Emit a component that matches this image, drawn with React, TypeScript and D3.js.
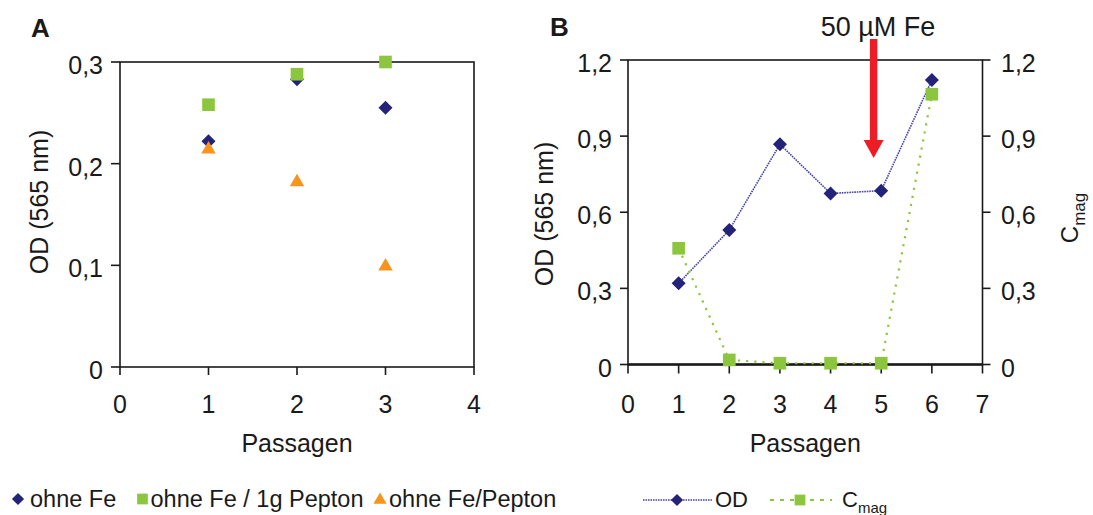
import React from "react";
import * as d3 from "d3";

// Panel A data
const passA = [1, 2, 3];
const ohneFe = [0.222, 0.283, 0.255];
const ohneFe1gPepton = [0.258, 0.288, 0.3];
const ohneFePepton = [0.214, 0.182, 0.099];
const xTicksA = [0, 1, 2, 3, 4];
const yTicksA = [0, 0.1, 0.2, 0.3];

// Panel B data
const passB = [1, 2, 3, 4, 5, 6];
const odB = [0.32, 0.53, 0.868, 0.674, 0.685, 1.121];
const cmagB = [0.458, 0.018, 0.005, 0.005, 0.005, 1.065];
const xTicksB = [0, 1, 2, 3, 4, 5, 6, 7];
const yTicksB = [0, 0.3, 0.6, 0.9, 1.2];
const feArrowAt = 4.85;

const NAVY = "#23237a";
const GREEN = "#8cc63e";
const ORANGE = "#f7941d";
const RED = "#ee1c25";
const INK = "#1a1a1a";
const FONT = "Liberation Sans, Arial, sans-serif";

const comma = (v: number) => (v === 0 ? "0" : d3.format(".1f")(v).replace(".", ","));

const diamond = d3.symbol().type(d3.symbolDiamond2).size(125)()!;
const square = d3.symbol().type(d3.symbolSquare).size(160)()!;
const triangle = d3.symbol().type(d3.symbolTriangle).size(90)()!;
const legDiamond = d3.symbol().type(d3.symbolDiamond2).size(95)()!;
const legSquare = d3.symbol().type(d3.symbolSquare).size(115)()!;
const legTriangle = d3.symbol().type(d3.symbolTriangle).size(75)()!;

export default function App() {
  // scales
  const xA = d3.scaleLinear().domain([0, 4]).range([120, 474]);
  const yA = d3.scaleLinear().domain([0, 0.3]).range([367, 62]);
  const xB = d3.scaleLinear().domain([0, 7]).range([628, 982.5]);
  const yB = d3.scaleLinear().domain([0, 1.2]).range([364.5, 60]);

  const lineOD = d3
    .line<number>()
    .x((_, i) => xB(passB[i]))
    .y((d) => yB(d));

  return (
    <svg
      width={1093}
      height={515}
      style={{ position: "absolute", left: 0, top: 0, background: "#fff" }}
      fontFamily={FONT}
      fill={INK}
    >
      {/* Panel A */}
      <text x={31} y={37} fontSize={26} fontWeight="bold">A</text>
      <rect x={xA(0)} y={yA(0.3)} width={xA(4) - xA(0)} height={yA(0) - yA(0.3)}
        fill="none" stroke={INK} strokeWidth={1.6} />
      {xTicksA.map((t) => (
        <g key={"xa" + t}>
          <line x1={xA(t)} x2={xA(t)} y1={yA(0)} y2={yA(0) + 8} stroke={INK} strokeWidth={1.6} />
          <text x={xA(t)} y={413} fontSize={25} textAnchor="middle">{t}</text>
        </g>
      ))}
      {yTicksA.map((t) => (
        <g key={"ya" + t}>
          <line x1={xA(0) - 9} x2={xA(0)} y1={yA(t)} y2={yA(t)} stroke={INK} strokeWidth={1.6} />
          <text x={103} y={yA(t) + 12} fontSize={25} textAnchor="end">{comma(t)}</text>
        </g>
      ))}
      <text x={xA(2)} y={452} fontSize={25} textAnchor="middle">Passagen</text>
      <text transform="translate(48,202) rotate(-90)" fontSize={25} textAnchor="middle">OD (565 nm)</text>
      {passA.map((p, i) => (
        <path key={"d" + i} d={diamond} transform={`translate(${xA(p)},${yA(ohneFe[i])})`} fill={NAVY} />
      ))}
      {passA.map((p, i) => (
        <path key={"s" + i} d={square} transform={`translate(${xA(p)},${yA(ohneFe1gPepton[i])})`} fill={GREEN} />
      ))}
      {passA.map((p, i) => (
        <path key={"t" + i} d={triangle} transform={`translate(${xA(p)},${yA(ohneFePepton[i])})`} fill={ORANGE} />
      ))}

      {/* Panel A legend */}
      <path d={legDiamond} transform="translate(18,499)" fill={NAVY} />
      <text x={30} y={507} fontSize={23.5}>ohne Fe</text>
      <path d={legSquare} transform="translate(142.5,499)" fill={GREEN} />
      <text x={150.5} y={507} fontSize={23.5}>ohne Fe / 1g Pepton</text>
      <path d={legTriangle} transform="translate(380,500)" fill={ORANGE} />
      <text x={389} y={507} fontSize={23.5}>ohne Fe/Pepton</text>

      {/* Panel B */}
      <text x={550} y={36} fontSize={26} fontWeight="bold">B</text>
      <rect x={xB(0)} y={yB(1.2)} width={xB(7) - xB(0)} height={yB(0) - yB(1.2)}
        fill="none" stroke={INK} strokeWidth={1.6} />
      <line x1={xB(0)} x2={xB(7)} y1={yB(0)} y2={yB(0)} stroke={INK} strokeWidth={2.6} />
      {xTicksB.map((t) => (
        <g key={"xb" + t}>
          <line x1={xB(t)} x2={xB(t)} y1={yB(0)} y2={yB(0) + 9} stroke={INK} strokeWidth={1.6} />
          <text x={xB(t)} y={413} fontSize={25} textAnchor="middle">{t}</text>
        </g>
      ))}
      {yTicksB.map((t) => (
        <g key={"yb" + t}>
          <line x1={xB(0) - 8} x2={xB(0)} y1={yB(t)} y2={yB(t)} stroke={INK} strokeWidth={1.6} />
          <text x={612} y={yB(t) + 12} fontSize={25} textAnchor="end">{comma(t)}</text>
          <line x1={xB(7)} x2={xB(7) + 8} y1={yB(t)} y2={yB(t)} stroke={INK} strokeWidth={1.6} />
          <text x={1001} y={yB(t) + 12} fontSize={25} textAnchor="start">{comma(t)}</text>
        </g>
      ))}
      <text x={xB(3.5)} y={452} fontSize={25} textAnchor="middle">Passagen</text>
      <text transform="translate(553,214) rotate(-90)" fontSize={25} textAnchor="middle">OD (565 nm)</text>
      <text transform="translate(1078,218) rotate(-90)" fontSize={24} textAnchor="middle">
        C<tspan fontSize={17} dy={7}>mag</tspan>
      </text>

      <path d={lineOD(odB)!} fill="none" stroke="#4545a8" strokeWidth={1.6} strokeDasharray="1.6,0.9" />
      <path d={lineOD(cmagB)!} fill="none" stroke={GREEN} strokeWidth={2.2} strokeDasharray="2.2,6" />
      {passB.map((p, i) => (
        <path key={"bd" + i} d={diamond} transform={`translate(${xB(p)},${yB(odB[i])})`} fill={NAVY} />
      ))}
      {passB.map((p, i) => (
        <path key={"bs" + i} d={square} transform={`translate(${xB(p)},${yB(cmagB[i])})`} fill={GREEN} />
      ))}

      {/* iron addition arrow */}
      <text x={878} y={36} fontSize={27} textAnchor="middle">50 µM Fe</text>
      <rect x={xB(feArrowAt) - 3.7} y={39} width={7.4} height={102} fill={RED} />
      <path
        d={`M${xB(feArrowAt) - 10},140 L${xB(feArrowAt) + 10},140 L${xB(feArrowAt)},158 Z`}
        fill={RED}
      />

      {/* Panel B legend */}
      <line x1={643} x2={712} y1={500} y2={500} stroke="#4545a8" strokeWidth={1.6} strokeDasharray="1.6,0.9" />
      <path d={legDiamond} transform="translate(677,500)" fill={NAVY} />
      <text x={715} y={507} fontSize={22}>OD</text>
      <line x1={770} x2={832} y1={500} y2={500} stroke={GREEN} strokeWidth={2} strokeDasharray="4,6" />
      <path d={legSquare} transform="translate(800,500)" fill={GREEN} />
      <text x={842} y={507} fontSize={22}>
        C<tspan fontSize={15} dy={6}>mag</tspan>
      </text>
    </svg>
  );
}
